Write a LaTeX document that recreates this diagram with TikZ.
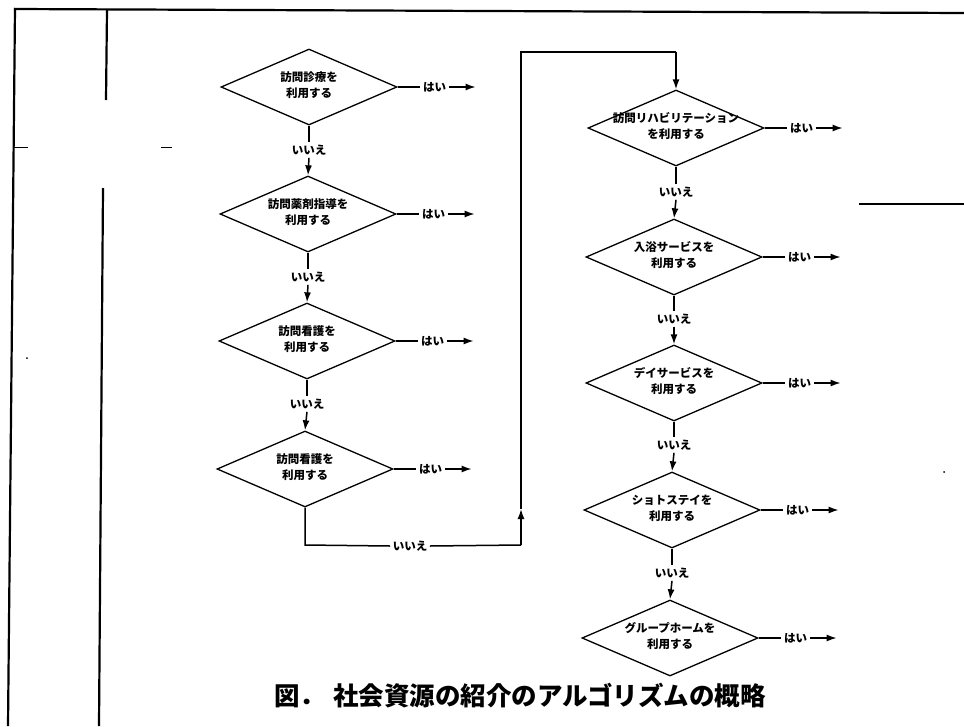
\documentclass[tikz,border=0pt]{standalone}
\usepackage{fontspec}
\setmainfont{Noto Sans CJK JP}
\usetikzlibrary{shapes.geometric,arrows.meta}
\begin{document}
\begin{tikzpicture}[x=1pt,y=-1pt,
 dia/.style={draw,shape=diamond,minimum width=176pt,minimum height=76pt,inner sep=0pt,line width=1.3pt},
 dtxt/.style={font=\fontsize{11.5}{16}\selectfont\bfseries,align=center,inner sep=0pt},
 lbl/.style={font=\fontsize{11.5}{13}\selectfont\bfseries,inner sep=2.5pt},
 conn/.style={line width=1.5pt},
 arr/.style={conn,-{Latex[length=10pt,width=7pt]}},
 frame/.style={line width=2.2pt}]
\useasboundingbox (0,0) rectangle (964,726);
% frame / scan lines
\draw[frame] (14,9) -- (964,13);
\draw[frame] (15,8) -- (8,726);
\draw[frame] (107,10) -- (106,100);
\draw[frame] (103,188) -- (99,726);
\draw[line width=1pt] (14,147) -- (28,147);
\draw[line width=1pt] (161,147) -- (172,147);
\draw[line width=1.3pt] (859,204) -- (964,204);
\fill (27,358) circle (1pt);
\fill (944,472) circle (1pt);
% diamonds
\node[dia] (d1) at (309,87) {};
\node[dia] (d2) at (308,214) {};
\node[dia] (d3) at (307,341) {};
\node[dia] (d4) at (305,469) {};
\node[dia] (d5) at (676,128) {};
\node[dia] (d6) at (674,257) {};
\node[dia] (d7) at (674,383) {};
\node[dia] (d8) at (672,510) {};
\node[dia] (d9) at (670,638) {};
\node[dtxt] (t1) at (309,85) {訪問診療を\\利用する};
\node[dtxt] (t2) at (308,212) {訪問薬剤指導を\\利用する};
\node[dtxt] (t3) at (307,339) {訪問看護を\\利用する};
\node[dtxt] (t4) at (305,467) {訪問看護を\\利用する};
\node[dtxt] (t5) at (676,126) {訪問リハビリテーション\\を利用する};
\node[dtxt] (t6) at (674,255) {入浴サービスを\\利用する};
\node[dtxt] (t7) at (674,381) {デイサービスを\\利用する};
\node[dtxt] (t8) at (672,508) {ショトステイを\\利用する};
\node[dtxt] (t9) at (670,636) {グループホームを\\利用する};
% yes branches
\foreach \i in {1,...,9}{
  \node[lbl] (y\i) at ([xshift=37pt]d\i.east) {はい};
  \coordinate (e\i) at ([xshift=78pt]d\i.east);
  \draw[conn] (d\i.east) -- (y\i.west);
  \draw[arr] (y\i.east) -- (e\i);
}
% no labels
\node[lbl] (n1) at (309,150) {いいえ};
\node[lbl] (n2) at (308,277) {いいえ};
\node[lbl] (n3) at (307,404) {いいえ};
\node[lbl] (n4) at (410,546) {いいえ};
\node[lbl] (n5) at (676,192) {いいえ};
\node[lbl] (n6) at (674,319) {いいえ};
\node[lbl] (n7) at (674,445) {いいえ};
\node[lbl] (n8) at (672,573) {いいえ};
\draw[conn] (d1.south) -- (n1.north); \draw[arr] (n1.south) -- (d2.north);
\draw[conn] (d2.south) -- (n2.north); \draw[arr] (n2.south) -- (d3.north);
\draw[conn] (d3.south) -- (n3.north); \draw[arr] (n3.south) -- (d4.north);
\draw[conn] (d5.south) -- (n5.north); \draw[arr] (n5.south) -- (d6.north);
\draw[conn] (d6.south) -- (n6.north); \draw[arr] (n6.south) -- (d7.north);
\draw[conn] (d7.south) -- (n7.north); \draw[arr] (n7.south) -- (d8.north);
\draw[conn] (d8.south) -- (n8.north); \draw[arr] (n8.south) -- (d9.north);
% loop from left column to right column
\coordinate (l1) at (305,545);
\coordinate (l2) at (521,545);
\coordinate (l3) at (521,509);
\coordinate (l4) at (521,52);
\coordinate (l5) at (676,52);
\draw[conn] (d4.south) -- (l1) -- (n4.west);
\draw[conn] (n4.east) -- (l2);
\draw[arr] (l2) -- (l3);
\draw[conn] (l3) -- (l4) -- (l5);
\draw[arr] (l5) -- (d5.north);
% caption
\node[font=\fontsize{25.5}{30}\selectfont\bfseries,inner sep=0pt] (cap) at (520,696) {図．\hspace{8pt}社会資源の紹介のアルゴリズムの概略};
\end{tikzpicture}
\end{document}
